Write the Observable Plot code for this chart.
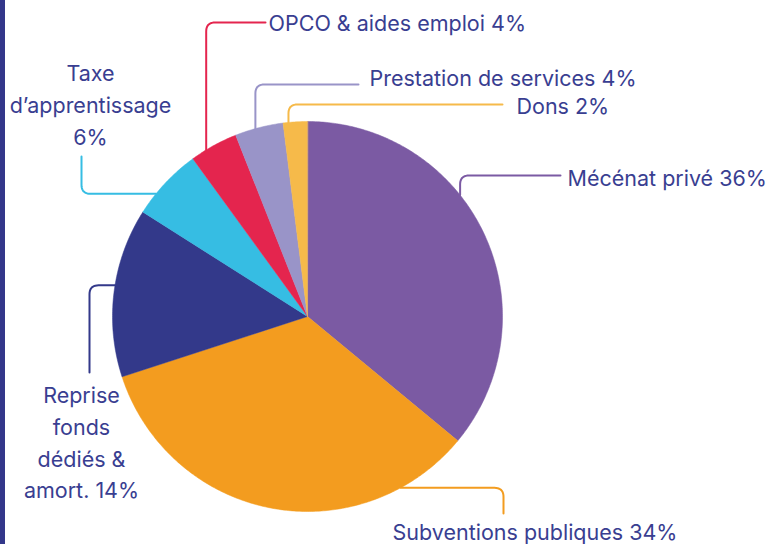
<!DOCTYPE html>
<html>
<head>
<meta charset="utf-8">
<script src="https://cdn.jsdelivr.net/npm/d3@7"></script>
<script src="https://cdn.jsdelivr.net/npm/@observablehq/plot@0.6"></script>
<style>
  html, body { margin: 0; padding: 0; background: #ffffff; }
  #wrap { position: relative; width: 770px; height: 544px; overflow: hidden; }
  #bar { position: absolute; left: 0; top: 0; width: 5px; height: 544px; background: #33378a; }
</style>
</head>
<body>
<div id="wrap"><div id="chart"></div><div id="bar"></div></div>
<script>
// ---- data ----
const categories = ["Mécénat privé", "Subventions publiques", "Reprise fonds dédiés & amort.", "Taxe d’apprentissage", "OPCO & aides emploi", "Prestation de services", "Dons"];
const shares = [36, 34, 14, 6, 4, 4, 2];
const labels = ["Mécénat privé 36%", "Subventions publiques 34%", "Reprise\nfonds\ndédiés &\namort. 14%", "Taxe\nd’apprentissage\n6%", "OPCO & aides emploi 4%", "Prestation de services 4%", "Dons 2%"];
const colors = ["#7b5aa3", "#f39c1f", "#33398a", "#36bde3", "#e4254e", "#9994c8", "#f6ba4a"];

// ---- layout (pixel space) ----
const W = 770, H = 544;
const CX = 307, CY = 316, R = 195;
const TEXT = "#393e91";
// leader: angle on pie edge (deg clockwise from top), end point, orientation of first segment
const leaderAngle = [51.5, 151.5, 279.2, 309, 328.7, 344.5, 354.4];
const leaderEnd = [[560, 175], [503, 513], [89, 372], [81, 156], [265, 22], [358, 84], [502, 104]];
const leaderFirst = ["v", "h", "h", "h", "v", "v", "v"];
const labelPos = [[567, 175], [392, 529], [81, 440], [90, 102], [268, 20], [369, 75], [516, 103]];
const labelAnchor = ["start", "start", "middle", "middle", "start", "start", "start"];

const pie = d3.pie().sort(null).value(d => d)(shares);
const polar = (a, r = R) => [CX + r * Math.sin(a), CY - r * Math.cos(a)];

function slicePoints(p) {
  const pts = [[CX, CY]];
  const n = Math.max(4, Math.ceil((p.endAngle - p.startAngle) / 0.01));
  for (let i = 0; i <= n; i++) {
    const a = p.startAngle + (p.endAngle - p.startAngle) * i / n;
    pts.push(polar(a));
  }
  return pts;
}

function roundedElbow(p0, c, p1, r = 9) {
  const u = (a, b) => { const dx = a[0] - b[0], dy = a[1] - b[1], l = Math.hypot(dx, dy) || 1; return [dx / l, dy / l]; };
  const u0 = u(p0, c), u1 = u(p1, c);
  const a = [c[0] + u0[0] * r, c[1] + u0[1] * r];
  const b = [c[0] + u1[0] * r, c[1] + u1[1] * r];
  const pts = [p0, a];
  for (let i = 1; i < 10; i++) {
    const t = i / 10;
    pts.push([
      (1 - t) * (1 - t) * a[0] + 2 * (1 - t) * t * c[0] + t * t * b[0],
      (1 - t) * (1 - t) * a[1] + 2 * (1 - t) * t * c[1] + t * t * b[1]
    ]);
  }
  pts.push(b, p1);
  return pts;
}

const sliceMarks = pie.map((p, i) =>
  Plot.line(slicePoints(p), { x: d => d[0], y: d => d[1], fill: colors[i], stroke: colors[i], strokeWidth: 0.5, curve: "linear-closed" })
);

const leaderMarks = categories.map((c, i) => {
  const s = polar(leaderAngle[i] * Math.PI / 180);
  const e = leaderEnd[i];
  const elbow = leaderFirst[i] === "v" ? [s[0], e[1]] : [e[0], s[1]];
  return Plot.line(roundedElbow(s, elbow, e), { x: d => d[0], y: d => d[1], stroke: colors[i], strokeWidth: 2 });
});

const labelData = labels.map((t, i) => ({ t, x: labelPos[i][0], y: labelPos[i][1], anchor: labelAnchor[i] }));

const textMarks = ["start", "middle"].map(anchor =>
  Plot.text(labelData.filter(d => d.anchor === anchor), {
    x: "x", y: "y", text: "t", textAnchor: anchor, lineAnchor: "middle",
    lineHeight: 1.48, fontSize: 21.5, fill: TEXT, fontFamily: "Inter, sans-serif"
  })
);

const chart = Plot.plot({
  width: W, height: H, margin: 0,
  x: { domain: [0, W], range: [0, W], axis: null },
  y: { domain: [0, H], range: [0, H], axis: null },
  style: { background: "#ffffff", fontFamily: "Inter, sans-serif" },
  marks: [...sliceMarks, ...leaderMarks, ...textMarks]
});
document.getElementById("chart").appendChild(chart);
</script>
</body>
</html>
